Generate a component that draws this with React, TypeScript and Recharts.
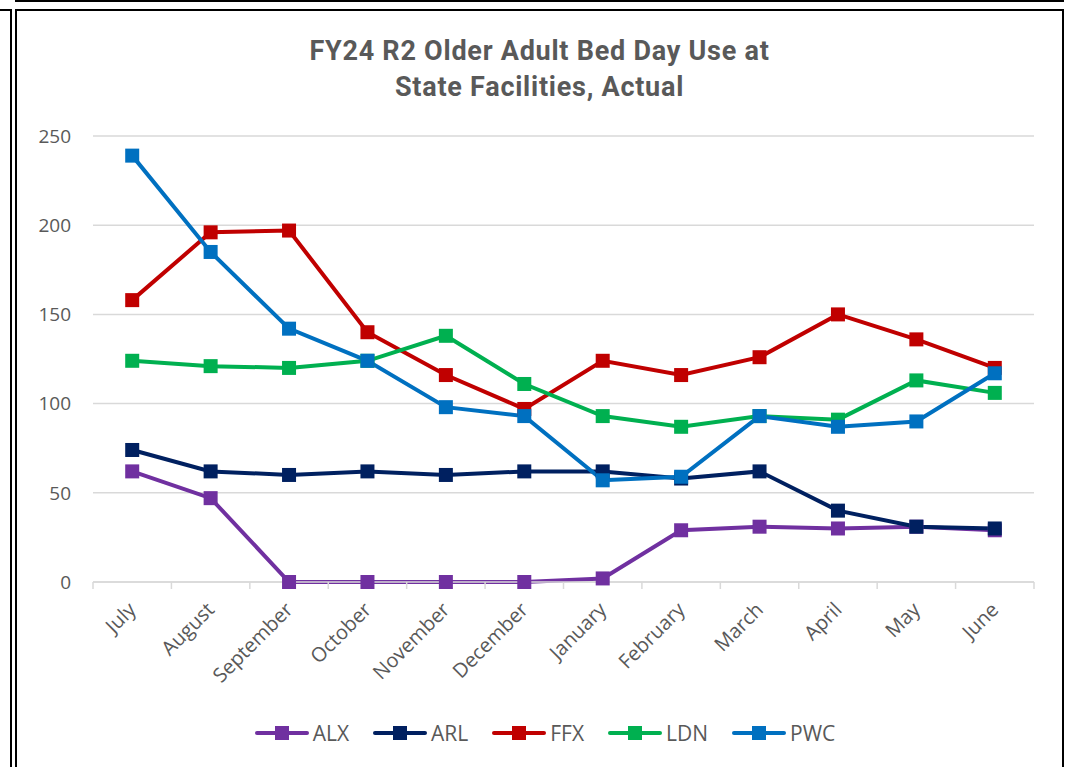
import React from "react";
import { LineChart, Line, XAxis, YAxis, CartesianGrid, Legend } from "recharts";

const months = [
  "July", "August", "September", "October", "November", "December",
  "January", "February", "March", "April", "May", "June",
];

const alx = [62, 47, 0, 0, 0, 0, 2, 29, 31, 30, 31, 29];
const arl = [74, 62, 60, 62, 60, 62, 62, 58, 62, 40, 31, 30];
const ffx = [158, 196, 197, 140, 116, 97, 124, 116, 126, 150, 136, 120];
const ldn = [124, 121, 120, 124, 138, 111, 93, 87, 93, 91, 113, 106];
const pwc = [239, 185, 142, 124, 98, 93, 57, 59, 93, 87, 90, 117];

const yTicks = [0, 50, 100, 150, 200, 250];

const series = [
  { key: "ALX", values: alx, color: "#7030A0" },
  { key: "ARL", values: arl, color: "#002060" },
  { key: "FFX", values: ffx, color: "#C00000" },
  { key: "LDN", values: ldn, color: "#00B050" },
  { key: "PWC", values: pwc, color: "#0070C0" },
];

const data = months.map((m, i) => {
  const row: Record<string, string | number> = { month: m };
  series.forEach((s) => {
    row[s.key] = s.values[i];
  });
  return row;
});

const W = 1069;
const H = 767;
const PLOT_LEFT = 93;
const PLOT_RIGHT = 1034;
const STEP = (PLOT_RIGHT - PLOT_LEFT) / months.length;
const FONT = "'Open Sans', sans-serif";
const GREY = "#595959";

function MonthTick(props: any) {
  const { x, y, payload, index } = props;
  const half = STEP / 2;
  const last = index === months.length - 1;
  const ax = x + 5;
  const ay = y + 29;
  return (
    <g>
      <line x1={x - half} y1={y} x2={x - half} y2={y + 7} stroke="#d9d9d9" strokeWidth={1.5} />
      {last && <line x1={x + half} y1={y} x2={x + half} y2={y + 7} stroke="#d9d9d9" strokeWidth={1.5} />}
      <text
        x={ax}
        y={ay}
        transform={`rotate(-45, ${ax}, ${ay})`}
        textAnchor="end"
        fill={GREY}
        fontSize={20}
        fontFamily={FONT}
      >
        {payload.value}
      </text>
    </g>
  );
}

function squareDot(color: string) {
  return (p: any) => {
    if (p.cx == null || p.cy == null) return <g key={p.index} />;
    return <rect key={p.index} x={p.cx - 7} y={p.cy - 7} width={14} height={14} fill={color} />;
  };
}

function LegendBox(props: any) {
  const payload = props.payload || [];
  return (
    <div
      style={{
        display: "flex",
        justifyContent: "center",
        alignItems: "center",
        height: 68,
        paddingLeft: 56,
        fontFamily: FONT,
      }}
    >
      {payload.map((item: any) => (
        <div key={item.value} style={{ display: "flex", alignItems: "center", margin: "0 12px" }}>
          <svg width={54} height={16}>
            <line x1={2} y1={8} x2={52} y2={8} stroke={item.color} strokeWidth={4} strokeLinecap="round" />
            <rect x={20} y={1} width={14} height={14} fill={item.color} />
          </svg>
          <span style={{ marginLeft: 4, fontSize: 21, color: GREY }}>{item.value}</span>
        </div>
      ))}
    </div>
  );
}

export default function App() {
  return (
    <div
      style={{
        position: "fixed",
        left: 0,
        top: 0,
        width: W,
        height: H,
        overflow: "hidden",
        background: "#fff",
      }}
    >
      {/* neighbouring frames cut off by the screenshot */}
      <div style={{ position: "absolute", left: 15, top: -100, width: 1045, height: 98, border: "2px solid #000" }} />
      <div style={{ position: "absolute", left: -100, top: 9, width: 108, height: 900, border: "2px solid #000" }} />
      <div style={{ position: "absolute", left: 15, top: 9, width: 1045, height: 900, border: "2px solid #000" }} />

      <div
        style={{
          position: "absolute",
          left: 15,
          top: 33,
          width: 1049,
          textAlign: "center",
          fontFamily: "Roboto, sans-serif",
          fontWeight: 700,
          fontSize: 27,
          letterSpacing: 0.75,
          lineHeight: "36px",
          color: GREY,
        }}
      >
        FY24 R2 Older Adult Bed Day Use at
        <br />
        State Facilities, Actual
      </div>

      <div style={{ position: "absolute", left: 0, top: 0 }}>
        <LineChart
          width={W}
          height={H}
          data={data}
          margin={{ top: 136, right: W - PLOT_RIGHT, bottom: 0, left: 0 }}
        >
          <CartesianGrid vertical={false} stroke="#d9d9d9" strokeWidth={1.5} />
          <XAxis
            dataKey="month"
            interval={0}
            padding={{ left: STEP / 2, right: STEP / 2 }}
            axisLine={{ stroke: "#d9d9d9", strokeWidth: 1.5 }}
            tickLine={false}
            tickSize={0}
            tickMargin={0}
            height={117}
            tick={<MonthTick />}
          />
          <YAxis
            domain={[0, 250]}
            ticks={yTicks}
            width={PLOT_LEFT}
            axisLine={false}
            tickLine={false}
            tickSize={0}
            tickMargin={22}
            tick={{ fill: GREY, fontSize: 19, fontFamily: FONT }}
          />
          <Legend verticalAlign="bottom" content={<LegendBox />} />
          {series.map((s) => (
            <Line
              key={s.key}
              dataKey={s.key}
              name={s.key}
              stroke={s.color}
              strokeWidth={4}
              dot={squareDot(s.color)}
              activeDot={false}
              isAnimationActive={false}
            />
          ))}
        </LineChart>
      </div>
    </div>
  );
}
